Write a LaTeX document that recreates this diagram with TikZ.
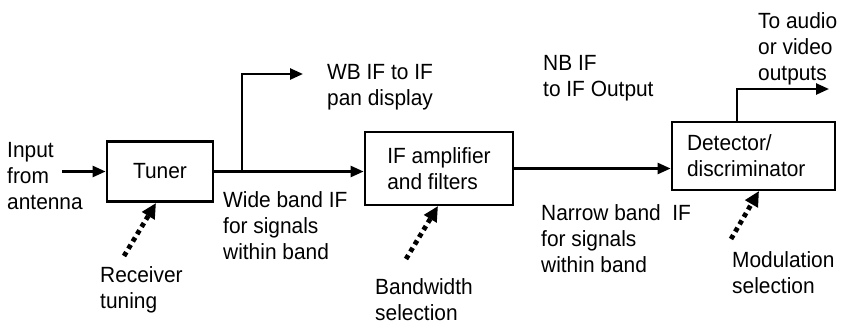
\documentclass[tikz,border=0pt]{standalone}
\usepackage{fontspec}
\setmainfont{Liberation Sans}[FakeStretch=0.95]
\usetikzlibrary{arrows.meta}
\begin{document}
\begin{tikzpicture}[x=1pt,y=-1pt,
  font=\fontsize{22}{26}\selectfont,
  blk/.style={draw,line width=2.8pt,inner sep=0pt,align=left},
  lbl/.style={inner sep=0pt,anchor=base west,align=left},
  conn/.style={line width=2.5pt,-{Triangle[length=13pt,width=11pt]}},
  ctrl/.style={line width=4.8pt,dash pattern=on 4.5pt off 4pt,
    -{Triangle[length=15pt,width=14pt]}}]
\useasboundingbox (0,0) rectangle (841,327);
% blocks
\node[blk,minimum width=106pt,minimum height=60pt] (tuner) at (160,171.5) {Tuner};
\node[blk,minimum width=148pt,minimum height=73pt] (ifamp) at (439,168.5) {IF amplifier\\and filters};
\node[blk,inner xsep=15pt,text width=133pt,minimum height=68pt] (det) at (753.5,156) {Detector/\\discriminator};
% labels (anchored at the baseline of their last line)
\node[lbl] (input) at (7,209) {Input\\from\\antenna};
\node[lbl] (wide) at (223,259) {Wide band IF\\for signals\\within band};
\node[lbl] (wb) at (327,105) {WB IF to IF\\pan display};
\node[lbl] (nb) at (543,96) {NB IF\\to IF Output};
\node[lbl] (narrow) at (541,272) {Narrow band\ \ IF\\for signals\\within band};
\node[lbl] (audio) at (758,80) {To audio\\or video\\outputs};
\node[lbl] (recv) at (100,308) {Receiver\\tuning};
\node[lbl] (bw) at (375,320) {Bandwidth\\selection};
\node[lbl] (mod) at (732,293) {Modulation\\selection};
% coordinates
\coordinate (inA) at (62,171.5);
\coordinate (br) at (242,171.5);
\coordinate (wbend) at (303,74);
\coordinate (dout) at (737,122);
\coordinate (aend) at (829,89);
\coordinate (rt) at (124,256);
\coordinate (rh) at (156,203);
\coordinate (bt) at (406,259);
\coordinate (bh) at (438,206);
\coordinate (mt) at (731,239);
\coordinate (mh) at (759,191);
% connectors
\draw[conn] (inA) -- (tuner.west);
\draw[conn] (tuner.east) -- (tuner.east -| ifamp.west);
\draw[conn] (br) |- (wbend);
\draw[conn] (ifamp.east) -- (ifamp.east -| det.west);
\draw[conn] (dout) |- (aend);
\draw[ctrl] (rt) -- (rh);
\draw[ctrl] (bt) -- (bh);
\draw[ctrl] (mt) -- (mh);
\end{tikzpicture}
\end{document}
